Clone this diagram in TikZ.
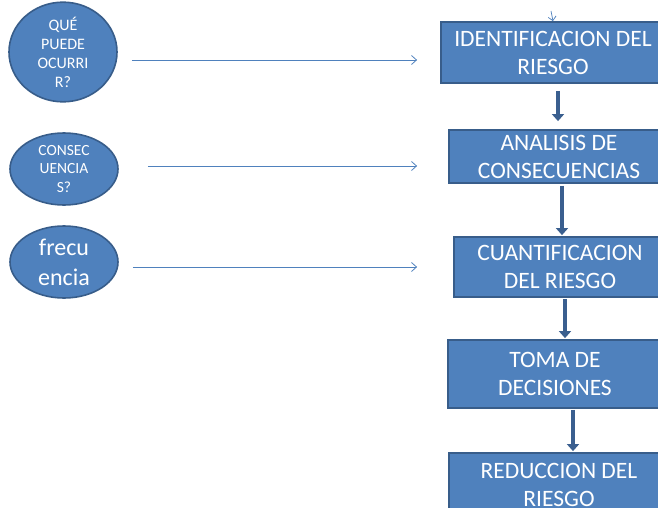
\documentclass[tikz,border=0pt]{standalone}
\usepackage{fontspec}
\setmainfont{Carlito}
\usetikzlibrary{arrows.meta,shapes.geometric}
\definecolor{fillblue}{HTML}{4F81BD}
\definecolor{edgeblue}{HTML}{385D8A}
\definecolor{shaft}{HTML}{3A5F8F}
\tikzset{
  oval/.style={ellipse, fill=fillblue, draw=edgeblue, line width=1.6pt, text=white,
    minimum width=108pt, minimum height=74pt, inner sep=0pt, align=center},
  stepbox/.style={rectangle, fill=fillblue, draw=edgeblue, line width=1.8pt, text=white,
    align=center, inner sep=0pt, font=\fontsize{23.5}{28}\selectfont},
  thinarrow/.style={draw=fillblue, line width=0.8pt, -{Straight Barb[length=5pt,width=9pt]}},
  bigarrow/.style={draw=shaft, line width=4pt, -{Triangle[length=7pt,width=12pt]}},
}
\begin{document}
\begin{tikzpicture}[x=1pt,y=-1pt]
\useasboundingbox (0,0) rectangle (658,508);
\clip (0,0) rectangle (658,508);
% ellipses
\node[oval, minimum height=76pt, font=\fontsize{16}{19}\selectfont] (e1) at (63,52) {QUÉ\\PUEDE\\OCURRI\\R?};
\node[oval, minimum height=72pt, font=\fontsize{15.5}{18.5}\selectfont] (e2) at (64,169) {CONSEC\\UENCIA\\S?};
\node[oval, minimum height=72pt, font=\fontsize{24}{30}\selectfont] (e3) at (64,262) {frecu\\encia};
% boxes
\node[stepbox, minimum width=224pt, minimum height=61pt] (b1) at (553,52.5) {IDENTIFICACION DEL\\RIESGO};
\node[stepbox, minimum width=220pt, minimum height=53pt] (b2) at (559,156.5) {ANALISIS DE\\CONSECUENCIAS};
\node[stepbox, minimum width=212pt, minimum height=60pt] (b3) at (560,267) {CUANTIFICACION\\DEL RIESGO};
\node[stepbox, minimum width=214pt, minimum height=68pt] (b4) at (555,374) {TOMA DE\\DECISIONES};
\node[stepbox, minimum width=220pt, minimum height=64pt] (b5) at (559,485) {REDUCCION DEL\\RIESGO};
% thin arrows
\draw[thinarrow] ([shift={(14,8)}]e1.east) -- ([shift={(-23,7.5)}]b1.west);
\draw[thinarrow] ([shift={(29,-3)}]e2.east) -- ([shift={(-31,9.5)}]b2.west);
\draw[thinarrow] ([shift={(14,5)}]e3.east) -- ([shift={(-36,0)}]b3.west);
\coordinate (topc) at (551,11);
\draw[draw=fillblue, line width=0.7pt, -{Straight Barb[length=4pt,width=8pt]}] (topc) -- (b1.north);
% thick arrows
\draw[bigarrow] ([shift={(5,7)}]b1.south) -- ([shift={(-1,-8)}]b2.north);
\draw[bigarrow] ([shift={(3,2)}]b2.south) -- ([shift={(2,-1)}]b3.north);
\draw[bigarrow] ([shift={(5,1)}]b3.south) -- ([shift={(10,-1)}]b4.north);
\draw[bigarrow] ([shift={(18,1)}]b4.south) -- ([shift={(14,-1)}]b5.north);
\end{tikzpicture}
\end{document}
